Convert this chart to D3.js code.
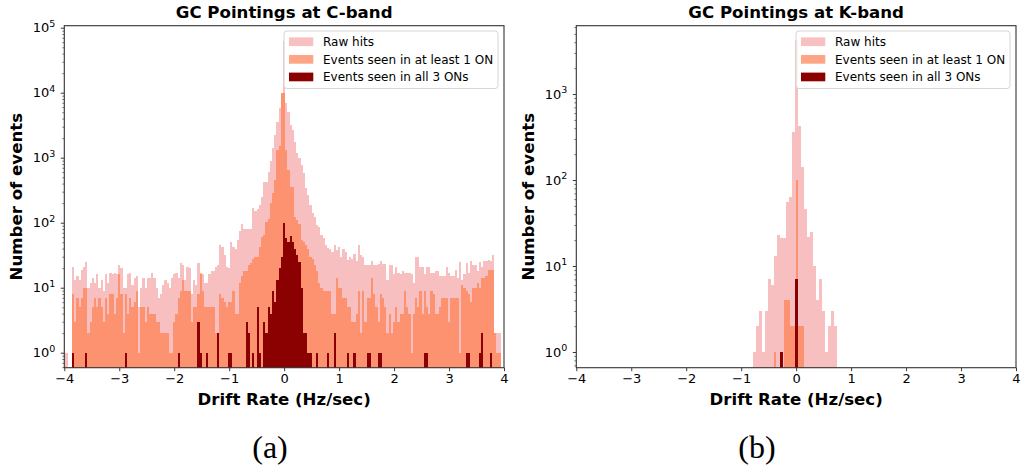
<!DOCTYPE html>
<html lang="en">
<head>
<meta charset="utf-8">
<title>GC Pointings</title>
<script src="https://cdnjs.cloudflare.com/ajax/libs/d3/7.8.5/d3.min.js"></script>
<style>
  body { margin: 0; background: #fff; }
  svg { display: block; }
  text { font-family: "DejaVu Sans", sans-serif; fill: #000; }
  text.caption { font-family: "Liberation Serif", serif; }
</style>
</head>
<body>
<svg id="fig" width="1020" height="467"></svg>
<script>
// ---- C-band histograms: counts per drift-rate bin (bins start at cStart, cWidth wide)
var cStart = -4.02, cWidth = 0.04;
var cRaw = [
  2, 1, 0, 0, 21, 13, 15, 13, 19, 21,
  25, 10, 12, 14, 12, 16, 10, 13, 9, 16,
  12, 17, 16, 17, 16, 22, 20, 10, 10, 16,
  17, 11, 14, 15, 5, 10, 14, 10, 14, 14,
  17, 14, 10, 7, 8, 11, 13, 12, 10, 14,
  16, 17, 14, 24, 22, 13, 21, 20, 8, 13,
  11, 24, 17, 16, 12, 12, 16, 18, 18, 21,
  22, 45, 43, 32, 21, 20, 50, 43, 40, 55,
  75, 97, 80, 80, 80, 80, 166, 150, 160, 190,
  250, 425, 425, 610, 880, 1400, 2250, 3600, 5900, 10000,
  63000, 6900, 5000, 3200, 2700, 1770, 1170, 1000, 780, 575,
  340, 265, 185, 140, 123, 92, 87, 64, 58, 45,
  41, 40, 36, 45, 38, 42, 30, 40, 36, 27,
  30, 28, 33, 26, 45, 32, 30, 22, 22, 22,
  26, 22, 22, 23, 26, 23, 23, 13, 22, 22,
  16, 21, 17, 16, 18, 17, 17, 17, 16, 12,
  30, 30, 21, 21, 16, 21, 21, 17, 17, 18,
  18, 15, 15, 15, 21, 17, 15, 15, 19, 14,
  25, 13, 16, 24, 17, 26, 22, 22, 18, 25,
  21, 26, 26, 27, 26, 32, 2, 2, 2, 0,
  0
];
var cOne = [
  0, 0, 0, 0, 8, 3, 7, 5, 7, 10,
  10, 2, 3, 5, 7, 5, 7, 5, 3, 7,
  4, 8, 8, 4, 7, 16, 8, 2, 8, 4,
  7, 5, 6, 9, 1, 5, 5, 3, 5, 4,
  4, 4, 3, 3, 2, 2, 2, 2, 1, 1,
  3, 4, 7, 9, 13, 9, 9, 9, 3, 5,
  5, 8, 16, 9, 5, 5, 5, 5, 5, 2,
  2, 8, 7, 6, 5, 6, 6, 9, 4, 4,
  12, 15, 18, 18, 22, 24, 28, 30, 30, 43,
  60, 65, 104, 115, 200, 290, 450, 1300, 1500, 10000,
  10000, 1300, 640, 360, 360, 123, 110, 95, 54, 50,
  45, 40, 30, 28, 22, 18, 12, 10, 9, 9,
  9, 9, 4, 4, 14, 10, 10, 7, 7, 5,
  5, 3, 3, 4, 9, 2, 9, 3, 7, 7,
  14, 8, 5, 3, 8, 7, 5, 2, 4, 2,
  3, 5, 3, 4, 4, 9, 5, 4, 1, 4,
  7, 5, 9, 4, 9, 5, 4, 9, 8, 4,
  4, 5, 7, 7, 7, 3, 7, 7, 7, 7,
  1, 11, 10, 9, 8, 6, 10, 10, 12, 10,
  14, 14, 15, 19, 19, 19, 2, 1, 1, 0,
  0
];
var cAll = [
  0, 0, 0, 0, 1, 0, 0, 0, 0, 0,
  1, 0, 0, 0, 0, 0, 0, 0, 0, 0,
  0, 0, 0, 0, 0, 0, 0, 0, 1, 0,
  0, 0, 0, 0, 0, 0, 0, 0, 0, 0,
  0, 0, 0, 0, 0, 0, 0, 0, 0, 0,
  0, 0, 1, 0, 0, 0, 0, 0, 0, 0,
  0, 3, 1, 0, 0, 1, 0, 0, 0, 0,
  2, 0, 0, 0, 0, 1, 1, 0, 0, 0,
  0, 0, 0, 3, 2, 0, 1, 0, 5, 1,
  0, 3, 2, 5, 4, 9, 6, 13, 20, 30,
  100, 58, 50, 62, 50, 40, 32, 25, 10, 2,
  2, 1, 1, 0, 0, 1, 0, 0, 0, 0,
  1, 0, 0, 2, 0, 0, 0, 0, 0, 1,
  0, 0, 1, 0, 0, 0, 0, 0, 1, 1,
  0, 0, 0, 1, 1, 0, 0, 0, 0, 0,
  0, 0, 0, 0, 0, 0, 0, 0, 0, 0,
  0, 0, 0, 0, 1, 1, 0, 0, 0, 0,
  0, 0, 0, 0, 0, 0, 0, 0, 0, 0,
  0, 0, 0, 1, 1, 0, 0, 0, 0, 1,
  2, 0, 0, 0, 1, 0, 0, 0, 0, 0,
  0
];

// ---- K-band histograms (each series has its own bins)
var kRawStart = -0.793, kRawWidth = 0.055;
var kRaw = [1, 2, 3, 1, 3, 7, 6, 13, 23, 21, 21, 56, 63, 360, 4200, 430, 140, 46, 22, 25, 10, 4, 7, 3, 1, 2, 3, 2];
var kOneStart = -0.41, kOneWidth = 0.0367;
var kOne = [1, 0, 0, 0, 0, 4, 4, 4, 2, 2, 2, 100, 2, 2, 2];
var kAllStart = -0.29, kAllWidth = 0.054;
var kAll = [1, 0, 0, 0, 0, 7];

var xTicks = [-4, -3, -2, -1, 0, 1, 2, 3, 4];
var cDecades = [0, 1, 2, 3, 4, 5];
var kDecades = [0, 1, 2, 3];
var seriesNames = ["Raw hits", "Events seen in at least 1 ON", "Events seen in all 3 ONs"];
var seriesColors = ["rgba(240,128,128,0.5)", "rgba(255,127,80,0.7)", "#8b0000"];
var legendColors = ["#f8c0c0", "#ffa585", "#8b0000"];

var svg = d3.select("#fig");

function toBins(counts, start, width) {
  return counts.map(function(c, i) {
    return { x0: start + i * width, x1: start + (i + 1) * width, n: c };
  }).filter(function(d) { return d.n > 0; });
}

function minorTicks(domain) {
  var out = [];
  for (var e = -1; e <= 6; e++) {
    for (var m = 2; m <= 9; m++) {
      var v = m * Math.pow(10, e);
      if (v >= domain[0] && v <= domain[1]) out.push(v);
    }
  }
  return out;
}

function drawPanel(p) {
  var x = d3.scaleLinear().domain([-4, 4]).range([p.left, p.right]);
  var y = d3.scaleLog().domain(p.yDomain).range([p.bottom, p.top]);
  var g = svg.append("g");

  g.append("clipPath").attr("id", p.id + "clip")
    .append("rect")
    .attr("x", p.left).attr("y", p.top)
    .attr("width", p.right - p.left).attr("height", p.bottom - p.top);

  var plot = g.append("g").attr("clip-path", "url(#" + p.id + "clip)");
  p.series.forEach(function(s, k) {
    plot.append("g")
      .selectAll("rect")
      .data(toBins(s.counts, s.start, s.width))
      .enter()
      .append("rect")
      .attr("x", d => x(d.x0))
      .attr("width", d => x(d.x1) - x(d.x0))
      .attr("y", d => y(d.n))
      .attr("height", d => p.bottom - y(d.n))
      .attr("fill", seriesColors[k])
      .attr("shape-rendering", "crispEdges");
  });

  // x axis
  var xAxis = d3.axisBottom(x)
    .tickValues(xTicks)
    .tickSize(3.5)
    .tickPadding(3)
    .tickFormat(d => d < 0 ? "\u2212" + Math.abs(d) : String(d));
  var gx = g.append("g")
    .attr("transform", "translate(0," + p.bottom + ")")
    .call(xAxis);
  gx.select(".domain").remove();
  gx.selectAll("line").attr("stroke", "#222").attr("stroke-width", 0.9);
  gx.selectAll("text").attr("font-size", 13).attr("font-family", "DejaVu Sans").attr("fill", "#000");

  // y axis: minor ticks then major ticks
  var gm = g.append("g")
    .attr("transform", "translate(" + p.left + ",0)")
    .call(d3.axisLeft(y).tickValues(minorTicks(p.yDomain)).tickSize(2).tickFormat(""));
  gm.select(".domain").remove();
  gm.selectAll("line").attr("stroke", "#222").attr("stroke-width", 0.6);

  var gy = g.append("g")
    .attr("transform", "translate(" + p.left + ",0)")
    .call(d3.axisLeft(y).tickValues(p.decades.map(e => Math.pow(10, e))).tickSize(3.5).tickFormat(""));
  gy.select(".domain").remove();
  gy.selectAll("line").attr("stroke", "#222").attr("stroke-width", 0.9);

  p.decades.forEach(function(e) {
    var t = g.append("text")
      .attr("x", p.left - 9)
      .attr("y", y(Math.pow(10, e)) + 4.6)
      .attr("text-anchor", "end")
      .attr("font-size", 13);
    t.append("tspan").text("10");
    t.append("tspan").attr("dy", -5.5).attr("font-size", 9.5).text(e);
  });

  // frame
  g.append("rect")
    .attr("x", p.left).attr("y", p.top)
    .attr("width", p.right - p.left).attr("height", p.bottom - p.top)
    .attr("fill", "none").attr("stroke", "#333").attr("stroke-width", 1.1);

  // title and labels
  var cx = (p.left + p.right) / 2;
  g.append("text").attr("x", cx).attr("y", 18)
    .attr("text-anchor", "middle").attr("font-weight", "bold").attr("font-size", 16.6)
    .text(p.title);
  g.append("text").attr("x", cx).attr("y", 405)
    .attr("text-anchor", "middle").attr("font-weight", "bold").attr("font-size", 16.6)
    .text("Drift Rate (Hz/sec)");
  g.append("text")
    .attr("transform", "translate(" + (p.left - 42) + "," + ((p.top + p.bottom) / 2) + ") rotate(-90)")
    .attr("text-anchor", "middle").attr("font-weight", "bold").attr("font-size", 16.6)
    .text("Number of events");

  // legend
  var lg = g.append("g").attr("transform", "translate(" + (p.right - 220) + ",31)");
  lg.append("rect").attr("width", 214).attr("height", 57.5).attr("rx", 3)
    .attr("fill", "#fff").attr("fill-opacity", 0.8)
    .attr("stroke", "#d6d6d6").attr("stroke-width", 1);
  seriesNames.forEach(function(name, k) {
    var cy = 10.7 + k * 17.6;
    lg.append("rect").attr("x", 5).attr("y", cy - 4.3).attr("width", 24.3).attr("height", 8.7)
      .attr("fill", legendColors[k]);
    lg.append("text").attr("x", 39).attr("y", cy + 4.3).attr("font-size", 12).text(name);
  });

  // sub-caption
  svg.append("text").attr("class", "caption")
    .attr("x", p.captionX).attr("y", 458)
    .attr("text-anchor", "middle")
    .attr("font-size", 32)
    .text(p.caption);
}

drawPanel({
  id: "c", left: 64.3, right: 504, top: 25.7, bottom: 367.7,
  yDomain: [0.588, 107400], decades: cDecades,
  title: "GC Pointings at C-band", caption: "(a)", captionX: 270,
  series: [
    { counts: cRaw, start: cStart, width: cWidth },
    { counts: cOne, start: cStart, width: cWidth },
    { counts: cAll, start: cStart, width: cWidth }
  ]
});

drawPanel({
  id: "k", left: 576.3, right: 1016, top: 25.7, bottom: 367.7,
  yDomain: [0.657, 6230], decades: kDecades,
  title: "GC Pointings at K-band", caption: "(b)", captionX: 757,
  series: [
    { counts: kRaw, start: kRawStart, width: kRawWidth },
    { counts: kOne, start: kOneStart, width: kOneWidth },
    { counts: kAll, start: kAllStart, width: kAllWidth }
  ]
});
</script>
</body>
</html>
